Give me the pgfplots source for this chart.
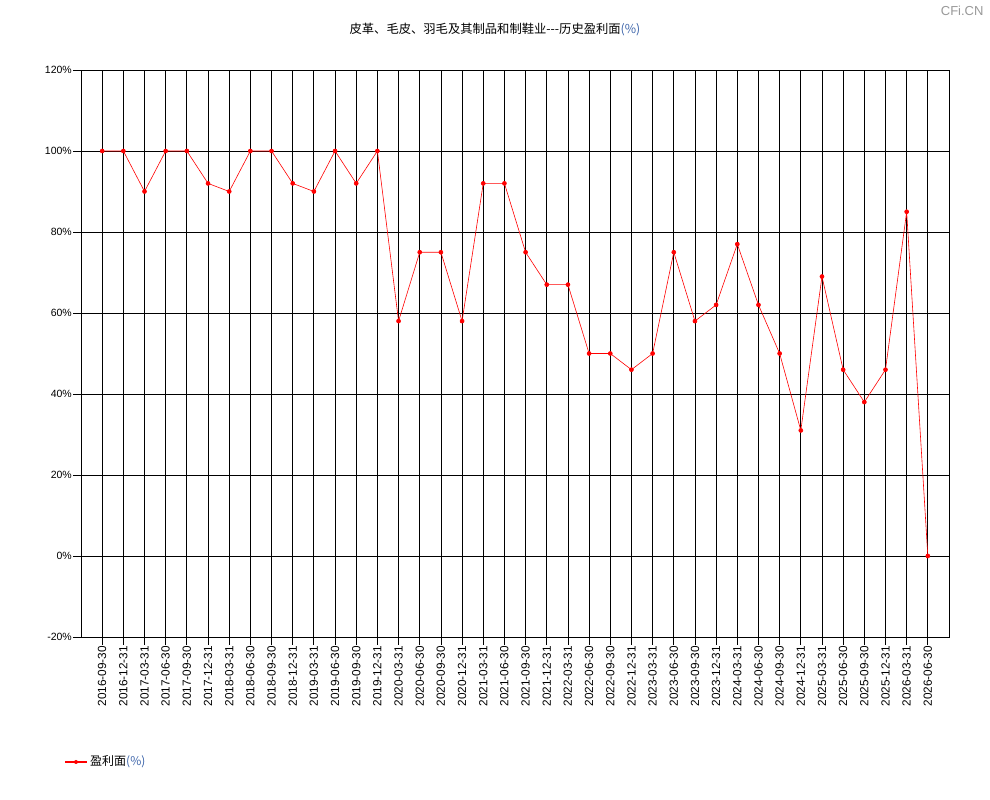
\documentclass[border=0pt]{standalone}
\usepackage{pgfplots}
\pgfplotsset{compat=1.18}
\usepackage{fontspec}
\setmainfont{Liberation Sans}
\newfontfamily\cjk{Noto Sans CJK SC}
\definecolor{pctblue}{RGB}{60,100,170}
\begin{document}
\begin{tikzpicture}
\fill[white] (0pt,0pt) rectangle (990pt,800pt);
\begin{axis}[
  at={(81pt,163pt)}, anchor=south west,
  scale only axis, width=868pt, height=567pt,
  xmin=-1, xmax=40, ymin=-20, ymax=120,
  xtick={0,...,39},
  xticklabels={2016-09-30,2016-12-31,2017-03-31,2017-06-30,2017-09-30,2017-12-31,2018-03-31,2018-06-30,2018-09-30,2018-12-31,2019-03-31,2019-06-30,2019-09-30,2019-12-31,2020-03-31,2020-06-30,2020-09-30,2020-12-31,2021-03-31,2021-06-30,2021-09-30,2021-12-31,2022-03-31,2022-06-30,2022-09-30,2022-12-31,2023-03-31,2023-06-30,2023-09-30,2023-12-31,2024-03-31,2024-06-30,2024-09-30,2024-12-31,2025-03-31,2025-06-30,2025-09-30,2025-12-31,2026-03-31,2026-06-30},
  ytick={-20,0,...,120},
  yticklabel={\pgfmathprintnumber{\tick}\%},
  /pgf/number format/assume math mode=true,
  xticklabel style={rotate=90, anchor=east, font=\fontsize{11.8}{13}\selectfont, inner sep=1pt},
  yticklabel style={font=\fontsize{10.5}{12}\selectfont, inner sep=1pt},
  tick align=outside, major tick length=8pt,
  tick style={black, line width=0.8pt},
  xtick pos=bottom, ytick pos=left,
  grid=major, grid style={black, line width=0.8pt},
  axis line style={black, line width=0.8pt},
  clip=false,
]
\addplot[red, line width=0.6pt, mark=*, mark size=2pt, mark options={fill=red, draw=red}] coordinates {
(0,100) (1,100) (2,90) (3,100) (4,100) (5,92) (6,90) (7,100) (8,100) (9,92)
(10,90) (11,100) (12,92) (13,100) (14,58) (15,75) (16,75) (17,58) (18,92) (19,92)
(20,75) (21,67) (22,67) (23,50) (24,50) (25,46) (26,50) (27,75) (28,58) (29,62)
(30,77) (31,62) (32,50) (33,31) (34,69) (35,46) (36,38) (37,46) (38,85) (39,0)
};
\end{axis}
\node[font=\cjk\fontsize{12.3}{14}\selectfont] at (495pt,770pt) {皮革、毛皮、羽毛及其制品和制鞋业---历史盈利面\textcolor{pctblue}{(\%)}};
\node[font=\fontsize{13}{15}\selectfont, text=black!40, anchor=east] at (987pt,789pt) {CFi.CN};
\draw[red, line width=1.5pt] (65pt,38pt) -- (87pt,38pt);
\fill[red] (76pt,38pt) circle (2pt);
\node[font=\cjk\fontsize{12}{14}\selectfont, anchor=west, inner sep=0pt] at (90pt,38pt) {盈利面\textcolor{pctblue}{(\%)}};
\end{tikzpicture}
\end{document}
